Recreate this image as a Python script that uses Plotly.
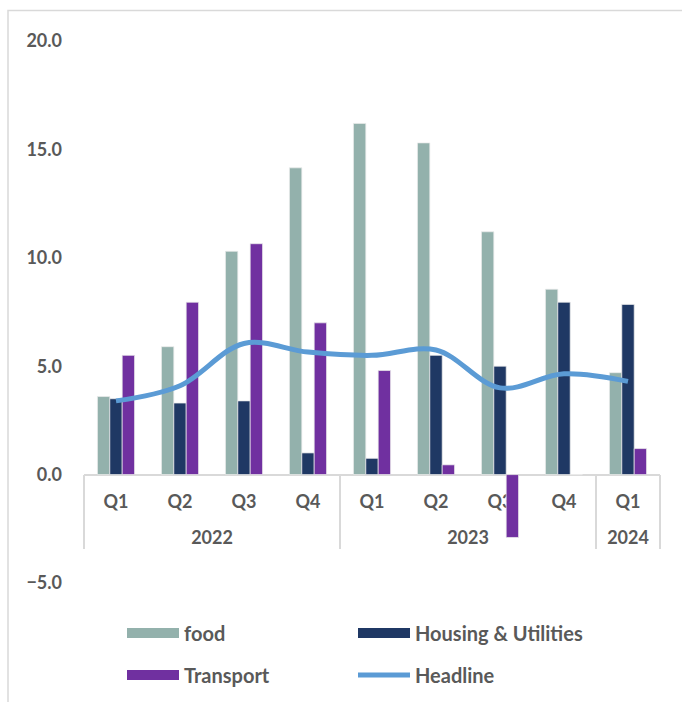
import plotly.graph_objects as go

# Quarterly inflation by component (%, y/y)
years = ["2022", "2022", "2022", "2022", "2023", "2023", "2023", "2023", "2024"]
quarters = ["Q1", "Q2", "Q3", "Q4", "Q1", "Q2", "Q3", "Q4", "Q1"]

food = [3.6, 5.9, 10.3, 14.15, 16.2, 15.3, 11.2, 8.55, 4.7]
housing = [3.5, 3.3, 3.4, 1.0, 0.75, 5.5, 5.0, 7.95, 7.85]
transport = [5.5, 7.95, 10.65, 7.0, 4.8, 0.45, -2.9, 0.0, 1.2]
headline = [3.4, 4.1, 6.05, 5.65, 5.5, 5.75, 4.0, 4.65, 4.3]

y_ticks = [-5, 0, 5, 10, 15, 20]

C_FOOD = "#93B1AC"
C_HOUSING = "#1F3864"
C_TRANSPORT = "#7030A0"
C_HEADLINE = "#5B9BD5"
C_TEXT = "#595959"
C_AXIS = "#D9D9D9"

W, H = 682, 702
ML, MR, MT, MB = 84, 22, 40.5, 119
plot_w = W - ML - MR
plot_h = H - MT - MB

# quarter labels carry an empty second line so the year row sits lower
quarter_labels = [q + "<br> " for q in quarters]
x = [years, quarter_labels]

font_bold = dict(family="Lato", size=18, color=C_TEXT, weight="bold")
legend_font = dict(family="Lato", size=20, color=C_TEXT, weight="bold")

fig = go.Figure()

bar_series = [("food", food, C_FOOD, "legend"),
              ("Housing & Utilities", housing, C_HOUSING, "legend"),
              ("Transport", transport, C_TRANSPORT, "legend2")]

for name, vals, col, _ in bar_series:
    fig.add_trace(go.Bar(
        x=x, y=vals, name=name, showlegend=False,
        marker=dict(color=col, line=dict(color="rgba(235,235,235,0.9)", width=0.8)),
    ))

fig.add_trace(go.Scatter(
    x=x, y=headline, name="Headline", mode="lines",
    line=dict(color=C_HEADLINE, width=5, shape="spline", smoothing=1),
    showlegend=False,
))

# legend entries: wide swatches for the bar series, then the headline line
for name, vals, col, lg in bar_series:
    fig.add_trace(go.Scatter(
        x=x, y=[None] * len(years), name=name, mode="lines",
        line=dict(color=col, width=12), legend=lg, hoverinfo="skip",
    ))
fig.add_trace(go.Scatter(
    x=x, y=[None] * len(years), name="Headline", mode="lines",
    line=dict(color=C_HEADLINE, width=5), legend="legend2", hoverinfo="skip",
))


def px_x(p):
    return (p - ML) / plot_w


def px_y(p):
    return (H - MB - p) / plot_h


legend_common = dict(
    orientation="h", xanchor="left", yanchor="middle",
    x=px_x(122), font=legend_font, itemwidth=52,
    entrywidth=164, entrywidthmode="pixels",
    bgcolor="rgba(0,0,0,0)", itemclick=False, itemdoubleclick=False,
)

y_min, y_max = -5, 20

fig.update_layout(
    width=W, height=H,
    margin=dict(l=ML, r=MR, t=MT, b=MB, pad=0, autoexpand=False),
    paper_bgcolor="white", plot_bgcolor="white",
    barmode="group", bargap=0.42, bargroupgap=0,
    legend=dict(legend_common, y=px_y(633)),
    legend2=dict(legend_common, y=px_y(675)),
    xaxis=dict(
        type="multicategory", anchor="free",
        position=(0 - y_min) / (y_max - y_min),
        showline=True, linecolor=C_AXIS, linewidth=1.5,
        showdividers=True, dividercolor=C_AXIS, dividerwidth=1.5,
        showgrid=False, zeroline=False, ticks="",
        ticklabelstandoff=11,
        tickfont=font_bold, layer="below traces",
    ),
    yaxis=dict(
        range=[y_min, y_max], tickvals=y_ticks, tickformat=".1f",
        showgrid=False, zeroline=False, showline=False, ticks="",
        ticklabelstandoff=21, tickfont=font_bold,
    ),
    shapes=[dict(
        type="rect", xref="paper", yref="paper",
        x0=px_x(8), x1=px_x(W + 20), y0=px_y(H + 20), y1=px_y(10),
        line=dict(color=C_AXIS, width=1.5), fillcolor="rgba(0,0,0,0)",
        layer="below",
    )],
)

fig.write_html("out.html")
